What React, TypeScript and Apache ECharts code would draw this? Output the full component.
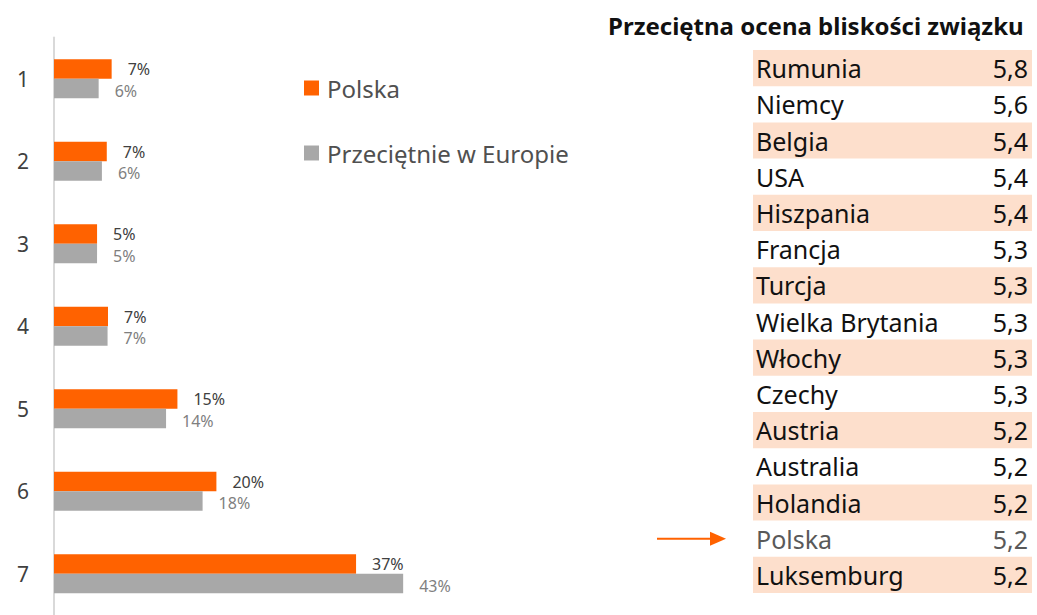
import React, { useEffect, useRef } from "react";
import * as echarts from "echarts";

const categories = ["1", "2", "3", "4", "5", "6", "7"];
const polskaValues = [7.1, 6.5, 5.3, 6.65, 15.2, 20.0, 37.2];
const europeValues = [5.5, 5.9, 5.3, 6.6, 13.8, 18.3, 43.0];
const seriesNames = ["Polska", "Przeciętnie w Europie"];

const tableTitle = "Przeciętna ocena bliskości związku";
const countries = [
  "Rumunia", "Niemcy", "Belgia", "USA", "Hiszpania", "Francja", "Turcja",
  "Wielka Brytania", "Włochy", "Czechy", "Austria", "Australia", "Holandia",
  "Polska", "Luksemburg",
];
const scores = [5.8, 5.6, 5.4, 5.4, 5.4, 5.3, 5.3, 5.3, 5.3, 5.3, 5.2, 5.2, 5.2, 5.2, 5.2];
const highlighted = "Polska";

const FONT = "'Noto Sans', 'Open Sans', sans-serif";
const ORANGE = "#FF6200";
const GRAY = "#A8A8A8";
const PEACH = "#FDDFCC";

export default function App() {
  const ref = useRef<HTMLDivElement>(null);
  useEffect(() => {
    if (!ref.current) return;
    const chart = echarts.init(ref.current, undefined, { renderer: "svg" });
    const hi = countries.indexOf(highlighted);
    const rowBg = countries.map((c, i) => ({
      value: 1,
      itemStyle: { color: i % 2 === 0 ? PEACH : "rgba(0,0,0,0)" },
      label: i === hi ? { color: "#595959" } : undefined,
    }));
    const rowScores = countries.map((c, i) => ({
      value: 1,
      itemStyle: { color: "rgba(0,0,0,0)" },
      label: i === hi ? { color: "#595959" } : undefined,
    }));
    const barLabel = (color: string, dy: number) => ({
      show: true,
      position: "right",
      distance: 16,
      offset: [0, dy],
      fontFamily: FONT,
      fontSize: 16,
      lineHeight: 16,
      color,
      formatter: (p: any) => Math.round(p.value) + "%",
    });
    chart.setOption({
      animation: false,
      textStyle: { fontFamily: FONT },
      title: {
        text: tableTitle,
        left: 603,
        top: 8,
        textStyle: { fontFamily: FONT, fontSize: 24, fontWeight: "bold", color: "#111" },
      },
      legend: {
        orient: "vertical",
        left: 304,
        top: 76,
        padding: 0,
        itemWidth: 15,
        itemHeight: 15,
        itemGap: 41,
        icon: "rect",
        data: seriesNames,
        selectedMode: false,
        textStyle: {
          fontFamily: FONT,
          fontSize: 24,
          lineHeight: 24,
          color: "#505050",
          padding: [0, 0, 0, 3],
        },
      },
      grid: [
        { left: 54, top: 37.5, width: 406, height: 582 },
        { left: 753, top: 50, width: 279, height: 543 },
      ],
      xAxis: [
        { gridIndex: 0, type: "value", min: 0, max: 50, show: false },
        { gridIndex: 1, type: "value", min: 0, max: 1, show: false },
      ],
      yAxis: [
        {
          gridIndex: 0,
          type: "category",
          inverse: true,
          data: categories,
          offset: 1,
          axisLine: { show: true, lineStyle: { color: "#D9D9D9", width: 2 } },
          axisTick: { show: false },
          axisLabel: { fontFamily: FONT, fontSize: 21, color: "#404040", margin: 30, align: "center" },
        },
        {
          gridIndex: 1,
          type: "category",
          inverse: true,
          data: countries,
          show: false,
        },
      ],
      series: [
        {
          name: seriesNames[0],
          type: "bar",
          xAxisIndex: 0,
          yAxisIndex: 0,
          data: polskaValues,
          barWidth: 19.5,
          barGap: "0%",
          itemStyle: { color: ORANGE },
          label: barLabel("#404040", 0),
        },
        {
          name: seriesNames[1],
          type: "bar",
          xAxisIndex: 0,
          yAxisIndex: 0,
          data: europeValues,
          barWidth: 19.5,
          barGap: "0%",
          itemStyle: { color: GRAY },
          label: barLabel("#7F7F7F", 2),
        },
        {
          name: "tableNames",
          type: "bar",
          xAxisIndex: 1,
          yAxisIndex: 1,
          data: rowBg,
          barWidth: "100%",
          silent: true,
          label: {
            show: true,
            position: "insideLeft",
            distance: 3,
            fontFamily: FONT,
            fontSize: 25,
            formatter: (p: any) => p.name,
            color: "#111",
          },
        },
        {
          name: "tableScores",
          type: "bar",
          xAxisIndex: 1,
          yAxisIndex: 1,
          barGap: "-100%",
          barWidth: "100%",
          silent: true,
          data: rowScores,
          label: {
            show: true,
            position: "insideRight",
            distance: 4,
            fontFamily: FONT,
            fontSize: 25,
            color: "#111",
            formatter: (p: any) => scores[p.dataIndex].toFixed(1).replace(".", ","),
          },
        },
      ],
    });
    const pt = chart.convertToPixel({ gridIndex: 1 }, [0, highlighted]) as number[];
    const y = pt[1];
    chart.setOption({
      graphic: [
        {
          type: "line",
          shape: { x1: 657, y1: y, x2: 713, y2: y },
          style: { stroke: ORANGE, lineWidth: 2 },
        },
        {
          type: "polygon",
          shape: { points: [[710, y - 7], [726, y], [710, y + 7]] },
          style: { fill: ORANGE },
        },
      ],
    });
    return () => chart.dispose();
  }, []);
  return (
    <div
      ref={ref}
      style={{ position: "absolute", left: 0, top: 0, width: 1037, height: 615 }}
    />
  );
}
